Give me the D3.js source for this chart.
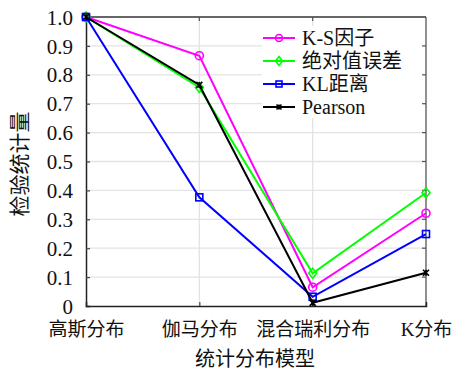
<!DOCTYPE html>
<html>
<head>
<meta charset="utf-8">
<script src="https://cdn.jsdelivr.net/npm/d3@7"></script>
<style>
  body { margin: 0; background: #fff; }
  text { font-family: "Liberation Serif", "DejaVu Serif", "Noto Sans CJK SC", serif; fill: #111; }
</style>
</head>
<body>
<div id="chart"></div>
<script>
var svgWidth = 456;
var svgHeight = 369;

var margin = { top: 17, right: 30, bottom: 63, left: 86 };
var width = svgWidth - margin.left - margin.right;
var height = svgHeight - margin.top - margin.bottom;

// data
var categories = ["高斯分布", "伽马分布", "混合瑞利分布", "K分布"];
var seriesNames = ["K-S因子", "绝对值误差", "KL距离", "Pearson"];
var ksValues = [1.0, 0.866, 0.065, 0.321];
var absValues = [1.0, 0.756, 0.113, 0.392];
var klValues = [1.0, 0.376, 0.032, 0.249];
var pearsonValues = [1.0, 0.765, 0.011, 0.115];
var yTicks = [0, 0.1, 0.2, 0.3, 0.4, 0.5, 0.6, 0.7, 0.8, 0.9, 1.0];

var series = [
  { name: seriesNames[0], values: ksValues, color: "#ff00ff", marker: "circle" },
  { name: seriesNames[1], values: absValues, color: "#00ff00", marker: "diamond" },
  { name: seriesNames[2], values: klValues, color: "#0000ff", marker: "square" },
  { name: seriesNames[3], values: pearsonValues, color: "#000000", marker: "star" }
];

var svg = d3.select("#chart")
  .append("svg")
  .attr("width", svgWidth)
  .attr("height", svgHeight);

var chartGroup = svg.append("g")
  .attr("transform", `translate(${margin.left}, ${margin.top})`);

var xScale = d3.scalePoint()
  .domain(categories)
  .range([0, width]);

var yScale = d3.scaleLinear()
  .domain([0, 1])
  .range([height, 0]);

// grid lines
chartGroup.append("g")
  .selectAll("line")
  .data(yTicks.slice(1, -1))
  .enter()
  .append("line")
  .attr("x1", 0)
  .attr("x2", width)
  .attr("y1", d => yScale(d))
  .attr("y2", d => yScale(d))
  .attr("stroke", "#e3e3e3")
  .attr("stroke-width", 1.3);

chartGroup.append("g")
  .selectAll("line")
  .data(categories.slice(1, -1))
  .enter()
  .append("line")
  .attr("x1", d => xScale(d))
  .attr("x2", d => xScale(d))
  .attr("y1", 0)
  .attr("y2", height)
  .attr("stroke", "#e3e3e3")
  .attr("stroke-width", 1.3);

// legend background covers the grid
var legendX = 176, legendY = 9;
chartGroup.append("rect")
  .attr("x", legendX)
  .attr("y", legendY)
  .attr("width", width - legendX - 1)
  .attr("height", 92)
  .attr("fill", "#fff");

// frame: top and right
chartGroup.append("line")
  .attr("x1", 0).attr("x2", width).attr("y1", 0).attr("y2", 0)
  .attr("stroke", "#333").attr("stroke-width", 1.3);
chartGroup.append("line")
  .attr("x1", width).attr("x2", width).attr("y1", 0).attr("y2", height)
  .attr("stroke", "#555").attr("stroke-width", 1.3);

// inner ticks on right and top
chartGroup.append("g")
  .selectAll("line")
  .data(yTicks.slice(1, -1))
  .enter()
  .append("line")
  .attr("x1", width - 4).attr("x2", width)
  .attr("y1", d => yScale(d)).attr("y2", d => yScale(d))
  .attr("stroke", "#555").attr("stroke-width", 1.2);

chartGroup.append("g")
  .selectAll("line")
  .data(categories.slice(1, -1))
  .enter()
  .append("line")
  .attr("x1", d => xScale(d)).attr("x2", d => xScale(d))
  .attr("y1", 0).attr("y2", 4)
  .attr("stroke", "#555").attr("stroke-width", 1.2);

// axes
var leftAxis = d3.axisLeft(yScale)
  .tickValues(yTicks)
  .tickSize(-4)
  .tickPadding(13)
  .tickFormat(d => d === 0 ? "0" : d3.format(".1f")(d));

var bottomAxis = d3.axisBottom(xScale)
  .tickSize(-4)
  .tickPadding(13);

var yAxisG = chartGroup.append("g").call(leftAxis);
var xAxisG = chartGroup.append("g")
  .attr("transform", `translate(0, ${height})`)
  .call(bottomAxis);

[yAxisG, xAxisG].forEach(function(g) {
  g.select(".domain").attr("stroke", "#222").attr("stroke-width", 1.5);
  g.selectAll(".tick line").attr("stroke", "#444").attr("stroke-width", 1.2);
  g.selectAll(".tick text").attr("fill", "#111").attr("font-family", "'Liberation Serif', 'Noto Sans CJK SC', serif");
});
yAxisG.selectAll(".tick text").attr("font-size", 21).attr("dy", "0.34em");
xAxisG.selectAll(".tick text").attr("font-size", 19).attr("dy", "0.9em");
// hide ticks at the corners
yAxisG.selectAll(".tick line").filter(d => d === 0 || d === 1).remove();
xAxisG.selectAll(".tick line").filter((d, i) => i === 0 || i === categories.length - 1).remove();

// markers
function drawMarker(g, type, color, size) {
  if (type === "circle") {
    g.append("circle").attr("r", size).attr("fill", "none")
      .attr("stroke", color).attr("stroke-width", 1.6);
  } else if (type === "diamond") {
    g.append("path")
      .attr("d", `M0,${-size - 1}L${size},0L0,${size + 1}L${-size},0Z`)
      .attr("fill", "none").attr("stroke", color).attr("stroke-width", 1.6);
  } else if (type === "square") {
    g.append("rect").attr("x", -size + 0.5).attr("y", -size + 0.5)
      .attr("width", 2 * size - 1).attr("height", 2 * size - 1)
      .attr("fill", "none").attr("stroke", color).attr("stroke-width", 1.6);
  } else {
    var s = size - 1;
    g.append("path")
      .attr("d", `M${-s},${-s}L${s},${s}M${-s},${s}L${s},${-s}M0,${-s}L0,${s}`)
      .attr("stroke", color).attr("stroke-width", 1.6);
  }
}

var line = d3.line()
  .x((d, i) => xScale(categories[i]))
  .y(d => yScale(d));

series.forEach(function(s) {
  chartGroup.append("path")
    .datum(s.values)
    .attr("d", line)
    .attr("fill", "none")
    .attr("stroke", s.color)
    .attr("stroke-width", 2);
  s.values.forEach(function(v, i) {
    var g = chartGroup.append("g")
      .attr("transform", `translate(${xScale(categories[i])}, ${yScale(v)})`);
    drawMarker(g, s.marker, s.color, 4);
  });
});

// legend
var legend = chartGroup.append("g")
  .attr("transform", `translate(${legendX}, ${legendY})`);
series.forEach(function(s, i) {
  var y = 12 + i * 23;
  legend.append("line")
    .attr("x1", 1).attr("x2", 33)
    .attr("y1", y).attr("y2", y)
    .attr("stroke", s.color).attr("stroke-width", 2);
  var g = legend.append("g").attr("transform", `translate(17, ${y})`);
  drawMarker(g, s.marker, s.color, 3.5);
  legend.append("text")
    .attr("x", 40)
    .attr("y", y)
    .attr("dy", "0.35em")
    .attr("font-size", 20)
    .text(s.name);
});

// axis titles
svg.append("text")
  .attr("x", 255)
  .attr("y", 366)
  .attr("text-anchor", "middle")
  .attr("font-size", 20)
  .text("统计分布模型");

svg.append("text")
  .attr("transform", "translate(27, 164) rotate(-90)")
  .attr("text-anchor", "middle")
  .attr("font-size", 21)
  .text("检验统计量");
</script>
</body>
</html>
